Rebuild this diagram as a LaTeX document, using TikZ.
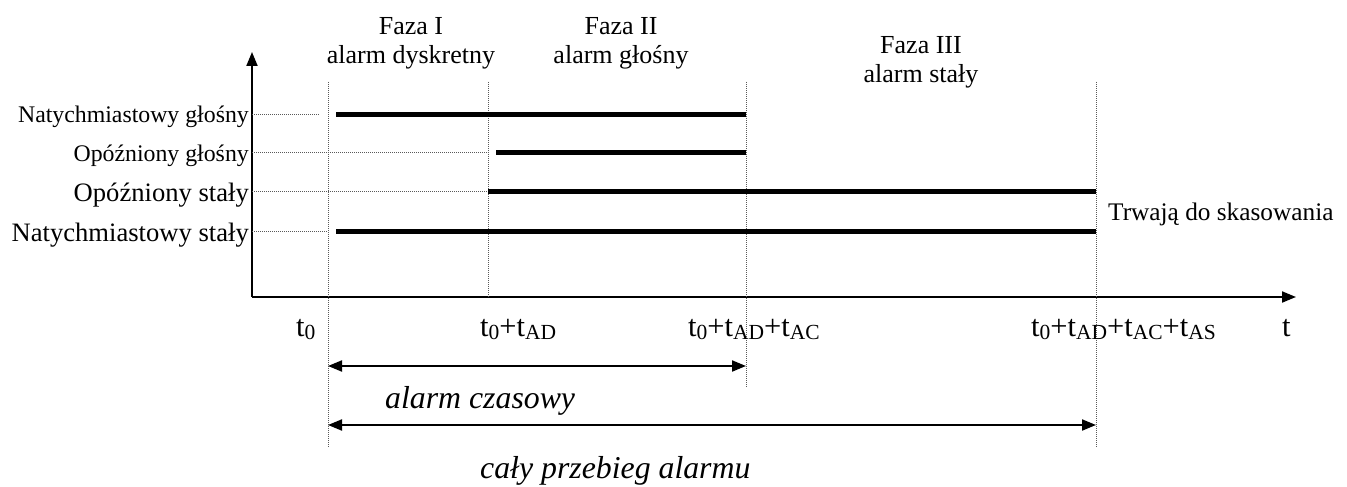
\documentclass[tikz,border=0pt]{standalone}
\usepackage{fontspec}
\setmainfont{Liberation Serif}
\usetikzlibrary{arrows.meta}
\newcommand{\tsub}[1]{\raisebox{-3pt}{\fontsize{21.5}{22}\selectfont #1}}
\begin{document}
\begin{tikzpicture}[x=1pt,y=-1pt,
  axis/.style={line width=2pt},
  guide/.style={line width=0.8pt, black!65, dash pattern=on 1pt off 1pt},
  bar/.style={line width=5pt},
  span/.style={line width=2pt, {Triangle[length=14pt,width=11pt]}-{Triangle[length=14pt,width=11pt]}},
  rowA/.style={anchor=base east, inner sep=0pt, font=\fontsize{23.8}{25}\selectfont},
  rowB/.style={anchor=base east, inner sep=0pt, font=\fontsize{26.6}{28}\selectfont},
  phase/.style={anchor=base, inner sep=0pt, font=\fontsize{26}{28}\selectfont},
  tlab/.style={anchor=base west, inner sep=0pt, font=\fontsize{30.5}{32}\selectfont},
  ital/.style={anchor=base west, inner sep=0pt, font=\itshape\fontsize{31.8}{33}\selectfont},
  note/.style={anchor=base west, inner sep=0pt, font=\fontsize{25.3}{27}\selectfont}]
\useasboundingbox (0,0) rectangle (1347,487);

% axes
\coordinate (O) at (252,297);
\coordinate (ytop) at (252,52);
\coordinate (xend) at (1296,297);
\draw[axis,-{Triangle[length=14pt,width=11pt]}] (O) -- (ytop);
\draw[axis,-{Triangle[length=14pt,width=11pt]}] (O) -- (xend);

% vertical guides
\coordinate (v0t) at (328,82);  \coordinate (v0b) at (328,448);
\coordinate (v1t) at (488,82);  \coordinate (v1b) at (488,297);
\coordinate (v2t) at (746,82);  \coordinate (v2b) at (746,388);
\coordinate (v3t) at (1096,82); \coordinate (v3b) at (1096,448);
\draw[guide] (v0t) -- (v0b);
\draw[guide] (v1t) -- (v1b);
\draw[guide] (v2t) -- (v2b);
\draw[guide] (v3t) -- (v3b);

% row labels
\node[rowA] (lab1) at (249,122) {Natychmiastowy głośny};
\node[rowA] (lab2) at (249,161) {Opóźniony głośny};
\node[rowB] (lab3) at (249,201) {Opóźniony stały};
\node[rowB] (lab4) at (249,241) {Natychmiastowy stały};

% leaders
\coordinate (a1) at (252,114); \coordinate (e1) at (320,114);
\coordinate (a2) at (252,152); \coordinate (e2) at (488,152);
\coordinate (a3) at (252,191); \coordinate (e3) at (488,191);
\coordinate (a4) at (252,231); \coordinate (e4) at (328,231);
\draw[guide] (a1) -- (e1);
\draw[guide] (a2) -- (e2);
\draw[guide] (a3) -- (e3);
\draw[guide] (a4) -- (e4);

% bars
\coordinate (b1s) at (336,114); \coordinate (b1e) at (746,114);
\coordinate (b2s) at (496,152); \coordinate (b2e) at (746,152);
\coordinate (b3s) at (488,191); \coordinate (b3e) at (1096,191);
\coordinate (b4s) at (336,231); \coordinate (b4e) at (1096,231);
\draw[bar] (b1s) -- (b1e);
\draw[bar] (b2s) -- (b2e);
\draw[bar] (b3s) -- (b3e);
\draw[bar] (b4s) -- (b4e);

% phase labels
\node[phase] (f1a) at (411,35) {Faza I};
\node[phase] (f1b) at (411,64) {alarm dyskretny};
\node[phase] (f2a) at (621,35) {Faza II};
\node[phase] (f2b) at (621,64) {alarm głośny};
\node[phase] (f3a) at (921,54) {Faza III};
\node[phase] (f3b) at (921,83) {alarm stały};

% note
\node[note] (trw) at (1108,220) {Trwają do skasowania};

% time labels
\node[tlab] (t0) at (296,336) {t\tsub{0}};
\node[tlab] (t1) at (480,336) {t\tsub{0}+t\tsub{AD}};
\node[tlab] (t2) at (688,336) {t\tsub{0}+t\tsub{AD}+t\tsub{AC}};
\node[tlab] (t3) at (1031,336) {t\tsub{0}+t\tsub{AD}+t\tsub{AC}+t\tsub{AS}};
\node[tlab] (tt) at (1282,336) {t};

% spans
\coordinate (s1a) at (328,366); \coordinate (s1b) at (746,366);
\coordinate (s2a) at (328,425); \coordinate (s2b) at (1096,425);
\draw[span] (s1a) -- (s1b);
\draw[span] (s2a) -- (s2b);
\node[ital] (czas) at (385,408) {alarm czasowy};
\node[ital] (caly) at (480,478) {cały przebieg alarmu};
\end{tikzpicture}
\end{document}
